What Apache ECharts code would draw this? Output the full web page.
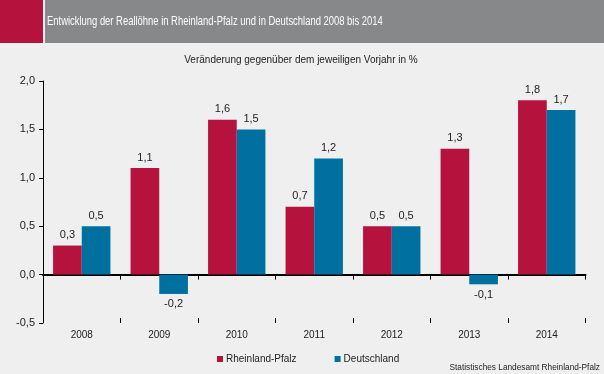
<!DOCTYPE html>
<html><head><meta charset="utf-8">
<script src="https://cdn.jsdelivr.net/npm/echarts@6/dist/echarts.min.js"></script>
<style>html,body{margin:0;padding:0;background:#EEEFEE;}#c{width:604px;height:374px;}</style>
</head><body><div id="c"></div>
<script>
const categories = ['2008','2009','2010','2011','2012','2013','2014'];
const rlp = [0.3, 1.1, 1.6, 0.7, 0.5, 1.3, 1.8];
const de = [0.5, -0.2, 1.5, 1.2, 0.5, -0.1, 1.7];
const fmt = v => v.toFixed(1).replace('.', ',');
const FF = '"Liberation Sans", Arial, sans-serif';
const chart = echarts.init(document.getElementById('c'));
const lbl = {show:true, formatter:p=>fmt(p.value), color:'#222', fontSize:11, fontFamily:FF, distance:5};
chart.setOption({
  backgroundColor:'#EEEFEE',
  animation:false,
  graphic:[
    {type:'rect', left:0, top:0, shape:{width:43, height:43}, style:{fill:'#B5123E'}},
    {type:'rect', left:45, top:0, shape:{width:559, height:43}, style:{fill:'#87888A'}},
    {type:'text', x:47, y:22, scaleX:0.785, style:{text:'Entwicklung der Reallöhne in Rheinland-Pfalz und in Deutschland 2008 bis 2014', fill:'#fff', font:'12px '+FF, verticalAlign:'middle'}},
    {type:'text', x:301, y:60, style:{text:'Veränderung gegenüber dem jeweiligen Vorjahr in %', fill:'#222', font:'10px '+FF, align:'center', verticalAlign:'middle'}},
    {type:'text', x:600, y:368, scaleX:0.92, style:{text:'Statistisches Landesamt Rheinland-Pfalz', fill:'#222', font:'9px '+FF, align:'right', verticalAlign:'middle'}}
  ],
  legend:{
    data:['Rheinland-Pfalz','Deutschland'], left:212, top:349, itemWidth:6, itemHeight:6, itemGap:38,
    icon:'rect', textStyle:{color:'#222', fontSize:10, fontFamily:FF, padding:[0,0,0,-2]}
  },
  grid:{left:43, right:18.5, top:81, bottom:51},
  xAxis:[{
    type:'category', data:categories,
    axisLine:{onZero:true, lineStyle:{color:'#000', width:2}},
    axisTick:{show:true, length:5, lineStyle:{color:'#000'}},
    axisLabel:{show:false}
  },{
    type:'category', data:categories, position:'bottom',
    axisLine:{show:false, onZero:true},
    axisTick:{show:true, inside:true, length:5, lineStyle:{color:'#000'}},
    axisLabel:{show:false}
  },{
    type:'category', data:categories, position:'bottom', axisLine:{show:false, onZero:false}, axisTick:{show:false},
    axisLabel:{color:'#222', fontSize:10, fontFamily:FF, margin:7}
  }],
  yAxis:{
    type:'value', min:-0.5, max:2.0, interval:0.5,
    axisLine:{show:true, lineStyle:{color:'#000'}},
    axisTick:{show:true, length:4, lineStyle:{color:'#000'}},
    splitLine:{show:false},
    axisLabel:{formatter:v=>fmt(v), color:'#222', fontSize:11, fontFamily:FF, margin:8}
  },
  series:[
    {name:'Rheinland-Pfalz', type:'bar', data:rlp, barGap:'0%', barCategoryGap:'26%', itemStyle:{color:'#B5123E'},
     label:Object.assign({}, lbl, {position:'top'}), z:1},
    {name:'Deutschland', type:'bar', data:de.map(v=>({value:v, label:{position: v<0?'bottom':'top'}})), itemStyle:{color:'#0070A0'},
     label:lbl, z:1}
  ]
});
</script></body></html>
